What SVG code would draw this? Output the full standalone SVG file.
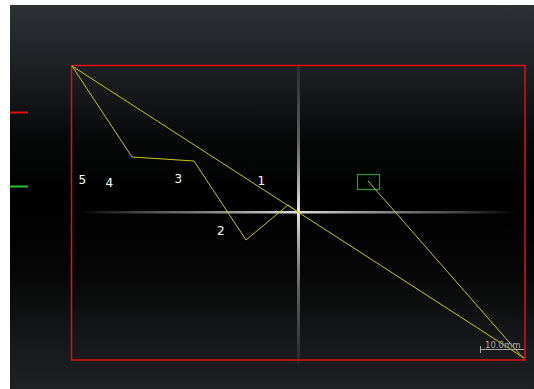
<svg xmlns="http://www.w3.org/2000/svg" width="534" height="389" viewBox="0 0 534 389">
  <defs>
    <linearGradient id="bg" x1="0" y1="5" x2="0" y2="389" gradientUnits="userSpaceOnUse">
      <stop offset="0" stop-color="#2d3135"/>
      <stop offset="0.15" stop-color="#1f2225"/>
      <stop offset="0.35" stop-color="#070808"/>
      <stop offset="0.5" stop-color="#000000"/>
      <stop offset="0.68" stop-color="#050505"/>
      <stop offset="0.85" stop-color="#141516"/>
      <stop offset="1" stop-color="#202124"/>
    </linearGradient>
    <linearGradient id="hx" x1="80" y1="0" x2="516" y2="0" gradientUnits="userSpaceOnUse">
      <stop offset="0" stop-color="#9a9a9a" stop-opacity="0"/>
      <stop offset="0.2" stop-color="#8a8a8a" stop-opacity="0.7"/>
      <stop offset="0.5" stop-color="#e0e0e0" stop-opacity="1"/>
      <stop offset="0.8" stop-color="#8a8a8a" stop-opacity="0.7"/>
      <stop offset="1" stop-color="#9a9a9a" stop-opacity="0"/>
    </linearGradient>
    <linearGradient id="vx" x1="0" y1="64" x2="0" y2="364" gradientUnits="userSpaceOnUse">
      <stop offset="0" stop-color="#9a9a9a" stop-opacity="0.1"/>
      <stop offset="0.25" stop-color="#9a9a9a" stop-opacity="0.6"/>
      <stop offset="0.49" stop-color="#e8e8e8" stop-opacity="1"/>
      <stop offset="0.75" stop-color="#9a9a9a" stop-opacity="0.6"/>
      <stop offset="1" stop-color="#9a9a9a" stop-opacity="0.1"/>
    </linearGradient>
  </defs>
  <style>
    .lbl { font-family: "DejaVu Sans", "Liberation Sans", sans-serif; font-size: 12px; fill: #ffffff; }
    .scale { font-family: "DejaVu Sans", "Liberation Sans", sans-serif; font-size: 8.5px; fill: #a8a8a8; }
    .trace { fill: none; stroke: #c8c800; stroke-width: 1; }
  </style>
  <rect x="0" y="0" width="534" height="389" fill="#ffffff"/>
  <rect x="10" y="5" width="524" height="384" fill="url(#bg)"/>

  <g id="crosshair">
    <rect x="297" y="64" width="3" height="300" fill="url(#vx)"/>
    <rect x="80" y="211" width="436" height="2.5" fill="url(#hx)"/>
  </g>

  <g id="frame">
    <rect x="71.5" y="65.5" width="453.5" height="294.5" fill="none" stroke="#e01010" stroke-width="1.5"/>
  </g>

  <g id="markers">
    <line x1="10" y1="112.5" x2="28" y2="112.5" stroke="#e01010" stroke-width="2"/>
    <line x1="10" y1="186.5" x2="28" y2="186.5" stroke="#2ec02e" stroke-width="2"/>
  </g>

  <g id="target">
    <rect x="357.5" y="174.5" width="22" height="15" fill="none" stroke="#2a9a2a" stroke-width="1.2"/>
  </g>

  <g id="connectors">
    <path class="trace" d="M72,66 L524,358"/>
    <path class="trace" d="M72,66 L132,157 L194,161 L246,240 L288,205 L298,212"/>
    <path class="trace" d="M368,181 L523,358"/>
  </g>

  <g id="labels">
    <text class="lbl" x="78.5" y="183.5">5</text>
    <text class="lbl" x="105.5" y="186.5">4</text>
    <text class="lbl" x="174.5" y="183">3</text>
    <text class="lbl" x="257.5" y="185">1</text>
    <text class="lbl" x="217" y="235">2</text>
  </g>

  <g id="scalebar">
    <line x1="480" y1="349.5" x2="524" y2="349.5" stroke="#a8a8a8" stroke-width="1"/>
    <line x1="480.5" y1="346" x2="480.5" y2="353" stroke="#a8a8a8" stroke-width="1"/>
    <text class="scale" x="485" y="348">10.0mm</text>
  </g>
</svg>
